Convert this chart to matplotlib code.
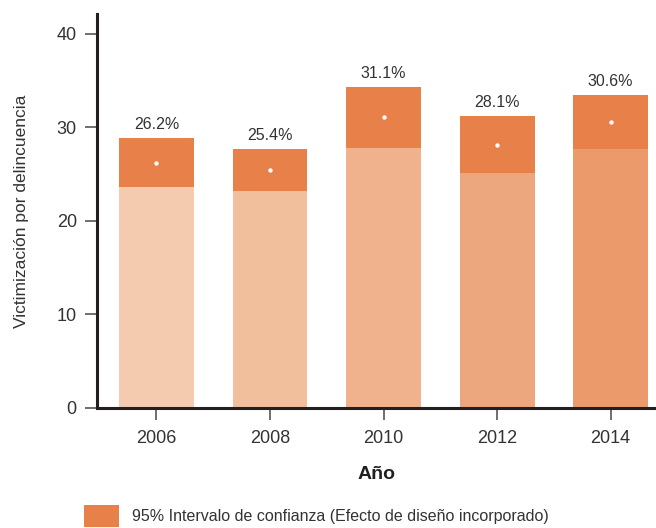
import matplotlib
matplotlib.use("Agg")
import matplotlib.pyplot as plt
import numpy as np

plt.rcParams["font.family"] = ["Liberation Sans", "DejaVu Sans"]

years = ["2006", "2008", "2010", "2012", "2014"]
estimate = [26.2, 25.4, 31.1, 28.1, 30.6]
ci_low = [23.6, 23.2, 27.8, 25.1, 27.7]
ci_high = [28.85, 27.7, 34.3, 31.2, 33.4]
labels = ["26.2%", "25.4%", "31.1%", "28.1%", "30.6%"]

BASE = ["#F5CBB0", "#F2BF9D", "#EFB28C", "#EDA77F", "#EB9A6C"]
CI = "#E8804A"
INK = "#231F20"
TEXT = "#333333"

fig = plt.figure(figsize=(6.56, 5.28), dpi=100)
ax = fig.add_axes([97 / 656, 1 - 408 / 528, 1 - 97 / 656, (408 - 14) / 528])

x = np.arange(len(years))
low = np.array(ci_low)
high = np.array(ci_high)

ax.bar(x, low, width=0.66, color=BASE, linewidth=0)
ax.bar(x, high - low, bottom=low, width=0.66, color=CI, linewidth=0,
       label="95% Intervalo de confianza (Efecto de diseño incorporado)")
ax.scatter(x, estimate, s=10, color="white", zorder=3, linewidths=0)

for xi, top, lab in zip(x, high, labels):
    ax.annotate(lab, (xi, top), xytext=(0, 6.5), textcoords="offset points",
                ha="center", va="baseline", fontsize=11.5, color=TEXT)

ax.set_xlim(-0.524, 4.40)
ax.set_ylim(0, 42.1)
ax.set_xticks(x)
ax.set_xticklabels(years)
ax.set_yticks([0, 10, 20, 30, 40])

for side in ["top", "right"]:
    ax.spines[side].set_visible(False)
for side in ["left", "bottom"]:
    ax.spines[side].set_linewidth(2.2)
    ax.spines[side].set_color(INK)

ax.tick_params(axis="both", direction="out", length=8.5, width=1.2,
               color="#555555", labelsize=13, labelcolor=TEXT)
ax.tick_params(axis="x", pad=7)
ax.tick_params(axis="y", pad=6)

ax.set_xlabel("Año", fontsize=14, weight="bold", color=INK, labelpad=14)
ax.set_ylabel("Victimización por delincuencia", fontsize=12.5, color=TEXT,
              labelpad=20)

fig.legend(loc="upper left", bbox_to_anchor=(84 / 656, 1 - 505 / 528),
           frameon=False, fontsize=11.5, handlelength=2.2, handleheight=1.7,
           handletextpad=0.8, borderpad=0, borderaxespad=0,
           labelcolor=TEXT)

fig.savefig("out.png", dpi=100)
